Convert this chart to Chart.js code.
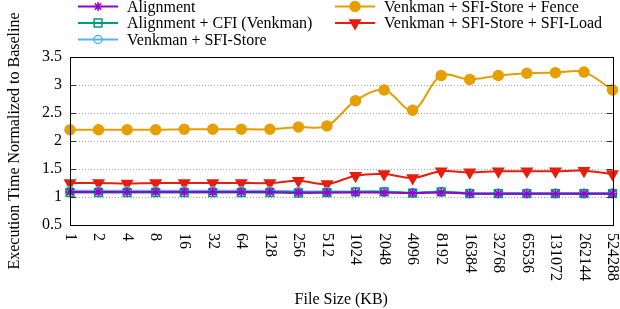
<!DOCTYPE html>
<html>
<head>
<meta charset="utf-8">
<script src="https://cdn.jsdelivr.net/npm/chart.js@4/dist/chart.umd.min.js"></script>
<style>
  html, body { margin: 0; padding: 0; background: #fff; }
  #wrap { width: 620px; height: 309px; position: relative; }
</style>
</head>
<body>
<div id="wrap"><canvas id="chart"></canvas></div>
<script>
// File sizes (KB) on the x axis
const fileSizes = ["1", "2", "4", "8", "16", "32", "64", "128", "256", "512", "1024", "2048",
  "4096", "8192", "16384", "32768", "65536", "131072", "262144", "524288"];

// Execution time normalized to baseline
const alignment = [1.09, 1.09, 1.09, 1.09, 1.09, 1.09, 1.09, 1.09, 1.08, 1.08, 1.08, 1.08, 1.07, 1.08, 1.06, 1.06, 1.06, 1.06, 1.06, 1.06];
const alignmentCfi = [1.08, 1.08, 1.08, 1.08, 1.08, 1.08, 1.08, 1.08, 1.07, 1.08, 1.09, 1.09, 1.07, 1.09, 1.06, 1.06, 1.06, 1.06, 1.06, 1.06];
const sfiStore = [1.11, 1.11, 1.11, 1.11, 1.11, 1.11, 1.11, 1.11, 1.10, 1.10, 1.10, 1.10, 1.08, 1.10, 1.07, 1.07, 1.07, 1.07, 1.07, 1.07];
const sfiStoreFence = [2.20, 2.20, 2.20, 2.20, 2.21, 2.21, 2.21, 2.21, 2.25, 2.27, 2.72, 2.91, 2.55, 3.17, 3.10, 3.17, 3.21, 3.22, 3.23, 2.91];
const sfiStoreLoad = [1.25, 1.25, 1.24, 1.25, 1.25, 1.25, 1.25, 1.25, 1.29, 1.23, 1.38, 1.41, 1.34, 1.46, 1.44, 1.46, 1.46, 1.46, 1.47, 1.41];

const yTicks = [0.5, 1, 1.5, 2, 2.5, 3, 3.5];

const FONT = "'Liberation Serif', 'Times New Roman', serif";

function series(label, data, color, style, extra) {
  return Object.assign({
    label, data,
    borderColor: color,
    backgroundColor: color,
    borderWidth: 2,
    pointStyle: style,
    pointBorderColor: color,
    pointBackgroundColor: color,
    pointBorderWidth: 1.5,
    pointRadius: 4,
    tension: 0.35,
    clip: false,
  }, extra || {});
}

const datasets = [
  series("Alignment", alignment, "#9400d3", "star", { pointRadius: 4.5 }),
  series("Alignment + CFI (Venkman)", alignmentCfi, "#009e73", "rect", { pointRadius: 5.5, pointBackgroundColor: "rgba(0,0,0,0)" }),
  series("Venkman + SFI-Store", sfiStore, "#56b4e9", "circle", { pointRadius: 4, pointBackgroundColor: "rgba(0,0,0,0)" }),
  series("Venkman + SFI-Store + Fence", sfiStoreFence, "#e69f00", "circle", { pointRadius: 5 }),
  series("Venkman + SFI-Store + SFI-Load", sfiStoreLoad, "#e51e10", "triangle", { pointRadius: 6, pointRotation: 180 }),
];

// box, inner ticks, rotated x labels and a two-column legend
const decorations = {
  id: "decorations",
  afterDraw(chart) {
    const { ctx, chartArea: a } = chart;
    const xs = chart.scales.x, ys = chart.scales.y;
    ctx.save();

    // inner tick marks on left and right
    ctx.strokeStyle = "#333";
    ctx.lineWidth = 1;
    yTicks.forEach(v => {
      const y = Math.round(ys.getPixelForValue(v)) + 0.5;
      ctx.beginPath();
      ctx.moveTo(a.left, y); ctx.lineTo(a.left + 6, y);
      ctx.moveTo(a.right, y); ctx.lineTo(a.right - 6, y);
      ctx.stroke();
    });

    // plot frame
    ctx.strokeStyle = "#000";
    ctx.strokeRect(Math.round(a.left) + 0.5, Math.round(a.top) + 0.5,
      Math.round(a.right - a.left), Math.round(a.bottom - a.top));

    // x labels, rotated clockwise
    ctx.fillStyle = "#000";
    ctx.font = "16px " + FONT;
    ctx.textAlign = "left";
    ctx.textBaseline = "middle";
    fileSizes.forEach((lbl, i) => {
      const x = xs.getPixelForValue(i);
      ctx.save();
      ctx.translate(x, a.bottom + 8);
      ctx.rotate(Math.PI / 2);
      ctx.fillText(lbl, 0, 0);
      ctx.restore();
    });

    // legend
    const cols = [78, 335];
    const rows = [6.5, 23, 39.5];
    chart.data.datasets.forEach((ds, i) => {
      const x0 = cols[i < 3 ? 0 : 1];
      const y = rows[i < 3 ? i : i - 3];
      ctx.strokeStyle = ds.borderColor;
      ctx.lineWidth = ds.borderWidth;
      ctx.beginPath();
      ctx.moveTo(x0, y); ctx.lineTo(x0 + 40, y);
      ctx.stroke();
      ctx.fillStyle = ds.pointBackgroundColor;
      ctx.strokeStyle = ds.pointBorderColor;
      ctx.lineWidth = ds.pointBorderWidth;
      Chart.helpers.drawPoint(ctx, {
        pointStyle: ds.pointStyle,
        radius: ds.pointRadius,
        rotation: ds.pointRotation || 0,
        borderWidth: ds.pointBorderWidth,
      }, x0 + 20, y);
      ctx.fillStyle = "#000";
      ctx.font = "16px " + FONT;
      ctx.textAlign = "left";
      ctx.textBaseline = "middle";
      ctx.fillText(ds.label, x0 + 49, y + 1);
    });

    ctx.restore();
  }
};

new Chart(document.getElementById("chart"), {
  type: "line",
  data: { labels: fileSizes, datasets },
  options: {
    responsive: true,
    maintainAspectRatio: false,
    animation: false,
    layout: { padding: { top: 57, right: 7, left: 0, bottom: 0 } },
    plugins: { legend: { display: false }, tooltip: { enabled: false } },
    scales: {
      x: {
        type: "category",
        offset: false,
        grid: { display: false },
        border: { display: false },
        ticks: { display: false },
        title: {
          display: true,
          text: "File Size (KB)",
          color: "#000",
          font: { family: FONT, size: 16 },
          padding: { top: 0, bottom: 0 },
        },
        afterFit: s => { s.height = 84; },
      },
      y: {
        min: 0.5,
        max: 3.5,
        afterBuildTicks: s => { s.ticks = yTicks.map(v => ({ value: v })); },
        grid: { color: "#a8a8a8", lineWidth: 1, drawTicks: false },
        border: { display: false, dash: [1, 2] },
        ticks: {
          color: "#000",
          padding: 8,
          font: { family: FONT, size: 16 },
          callback: v => String(v),
        },
        title: {
          display: true,
          text: "Execution Time Normalized to Baseline",
          color: "#000",
          font: { family: FONT, size: 16 },
          padding: { top: 5, bottom: 0 },
        },
        afterFit: s => { s.width = 70; },
      },
    },
  },
  plugins: [decorations],
});
</script>
</body>
</html>
